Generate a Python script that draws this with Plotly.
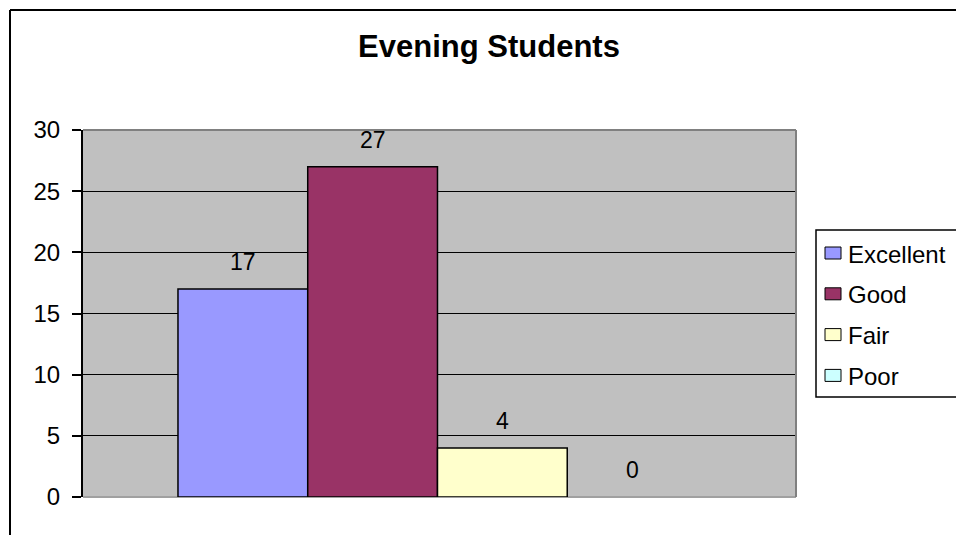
import plotly.graph_objects as go

# Survey results
categories = ["Excellent", "Good", "Fair", "Poor"]
counts = [17, 27, 4, 0]
colors = ["#9999FF", "#993366", "#FFFFCC", "#CCFFFF"]
y_ticks = [0, 5, 10, 15, 20, 25, 30]
title_text = "Evening Students"

W, H = 956, 535
ML, MR, MT, MB = 83, 160, 130, 38
PW, PH = W - ML - MR, H - MT - MB
FONT = "Liberation Sans, Arial, sans-serif"


def px_x(px):
    return (px - ML) / PW


def px_y(py):
    return (H - MB - py) / PH


fig = go.Figure()

for i, (name, val, col) in enumerate(zip(categories, counts, colors)):
    fig.add_trace(go.Bar(
        x=[i], y=[val], width=1, name=name,
        marker=dict(color=col, line=dict(color="black", width=1.5 if val else 0)),
        showlegend=False,
    ))
    fig.add_annotation(
        x=i, y=val, xref="x", yref="y", text=str(val), showarrow=False,
        yanchor="bottom", yshift=12,
        font=dict(family=FONT, size=23, color="black"),
    )

shapes = []
# outer chart frame (left and top edges)
shapes.append(dict(type="line", xref="paper", yref="paper",
                   x0=px_x(10), x1=px_x(10), y0=px_y(10), y1=px_y(560),
                   line=dict(color="black", width=2)))
shapes.append(dict(type="line", xref="paper", yref="paper",
                   x0=px_x(10), x1=px_x(980), y0=px_y(10), y1=px_y(10),
                   line=dict(color="black", width=2)))
# plot area border: top and right in grey, bottom light grey
shapes.append(dict(type="line", xref="paper", yref="paper", layer="above",
                   x0=0, x1=1, y0=1, y1=1, line=dict(color="#808080", width=2)))
shapes.append(dict(type="line", xref="paper", yref="paper", layer="above",
                   x0=1, x1=1, y0=0, y1=1, line=dict(color="#808080", width=2)))
shapes.append(dict(type="line", xref="paper", yref="paper", layer="below",
                   x0=0, x1=1, y0=0, y1=0, line=dict(color="#A0A0A0", width=2)))

# legend box
shapes.append(dict(type="rect", xref="paper", yref="paper",
                   x0=px_x(816), x1=px_x(1000), y0=px_y(397), y1=px_y(230),
                   line=dict(color="black", width=1.5), fillcolor="white"))
item_y0, item_step = 253, 40.8
for k, (name, col) in enumerate(zip(categories, colors)):
    cy = item_y0 + k * item_step
    shapes.append(dict(type="rect", xref="paper", yref="paper",
                       x0=px_x(825), x1=px_x(841), y0=px_y(cy + 6), y1=px_y(cy - 6),
                       line=dict(color="black", width=1), fillcolor=col))
    fig.add_annotation(
        x=px_x(846), y=px_y(cy + 1), xref="paper", yref="paper", text=name,
        showarrow=False, xanchor="left", yanchor="middle",
        font=dict(family=FONT, size=24, color="black"),
    )

fig.update_layout(
    width=W, height=H,
    margin=dict(l=ML, r=MR, t=MT, b=MB, pad=0),
    paper_bgcolor="white",
    plot_bgcolor="#C0C0C0",
    barmode="overlay",
    showlegend=False,
    shapes=shapes,
    title=dict(text=title_text, x=489 / W, xanchor="center",
               y=1 - 46 / H, yanchor="middle", yref="container",
               font=dict(family=FONT, size=31, color="black", weight="bold")),
    xaxis=dict(range=[-1.232, 4.263], showticklabels=False, showgrid=False,
               zeroline=False, showline=False, ticks="", fixedrange=True),
    yaxis=dict(range=[0, 30], tickvals=y_ticks, showgrid=True,
               gridcolor="black", gridwidth=1, zeroline=False,
               showline=True, linecolor="black", linewidth=2,
               ticks="outside", ticklen=9, tickcolor="black", tickwidth=1.5,
               tickfont=dict(family=FONT, size=24, color="black"),
               ticklabelstandoff=7, fixedrange=True),
)

fig.write_html("out.html")
